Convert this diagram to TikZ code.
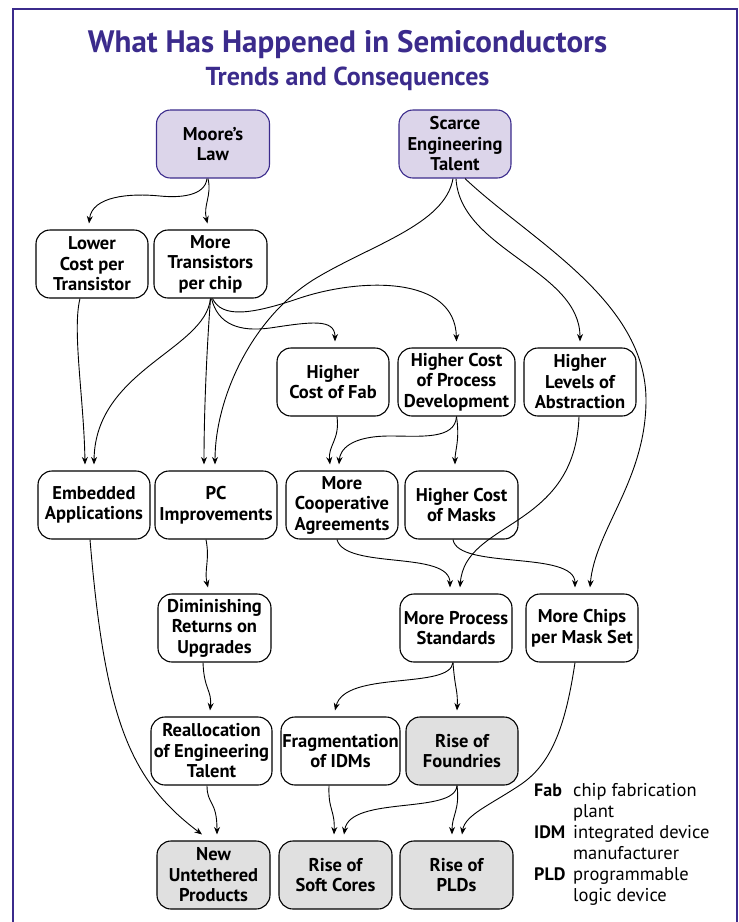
\documentclass[tikz,border=0pt]{standalone}
\usepackage{fontspec}
\setmainfont{PT Sans}
\usetikzlibrary{arrows.meta,calc}
\definecolor{framepurple}{HTML}{3B2B8C}
\definecolor{lav}{HTML}{DCD5EA}
\definecolor{gfill}{HTML}{E0E0E0}
\begin{document}
\begin{tikzpicture}[x=1pt,y=-1pt,
  box/.style={draw=black, line width=1.1pt, rounded corners=14pt, minimum width=#1,
    minimum height=68pt, inner sep=0.5pt, align=center,
    font=\fontsize{18.5}{20.5}\selectfont\bfseries},
  box/.default=112pt,
  topbox/.style={box=#1, draw=framepurple, fill=lav},
  topbox/.default=112pt,
  endbox/.style={box=#1, fill=gfill},
  endbox/.default=113pt,
  edge/.style={line width=0.9pt, -{Stealth[length=7.5pt,width=6pt]}},
  abbr/.style={anchor=base west, inner sep=0pt, font=\fontsize{18}{21}\selectfont\bfseries},
  defn/.style={anchor=base west, inner sep=0pt, font=\fontsize{18.5}{21}\selectfont},
]
\useasboundingbox (0,0) rectangle (739,922);
% frame
\draw[framepurple, line width=2.5pt] (13,922) -- (13,9) -- (737,9) -- (737,922);
% titles
\node[anchor=base, text=framepurple, font=\fontsize{31}{34}\selectfont\bfseries] (title) at (347.5,52) {What Has Happened in Semiconductors};
\node[anchor=base, text=framepurple, font=\fontsize{26}{30}\selectfont\bfseries] (subtitle) at (347.5,85) {Trends and Consequences};
% nodes
\node[topbox=113pt] (moore) at (213,144) {Moore’s\\Law};
\node[topbox] (scarce) at (455,144) {Scarce\\Engineering\\Talent};
\node[box] (lower) at (92,264) {Lower\\Cost per\\Transistor};
\node[box=113pt] (moretr) at (210.5,264) {More\\Transistors\\per chip};
\node[box] (fab) at (333,382) {Higher\\Cost of Fab};
\node[box=117pt] (procdev) at (456.5,382) {Higher Cost\\of Process\\Development};
\node[box] (abstr) at (580,382) {Higher\\Levels of\\Abstraction};
\node[box] (embed) at (94,505) {Embedded\\Applications};
\node[box=122pt] (pc) at (216,505) {PC\\Improvements};
\node[box] (coop) at (342,505) {More\\Cooperative\\Agreements};
\node[box=113pt] (masks) at (461.5,505) {Higher Cost\\of Masks};
\node[box=113pt] (dimin) at (214.5,628) {Diminishing\\Returns on\\Upgrades};
\node[box] (stds) at (456,628) {More Process\\Standards};
\node[box] (chips) at (582,628) {More Chips\\per Mask Set};
\node[box=121pt] (realloc) at (211.5,751) {Reallocation\\of Engineering\\Talent};
\node[box=119pt] (frag) at (340.5,751) {Fragmentation\\of IDMs};
\node[endbox=112pt] (foundries) at (462,751) {Rise of\\Foundries};
\node[endbox] (untethered) at (213.5,875) {New\\Untethered\\Products};
\node[endbox] (softcores) at (335.5,875) {Rise of\\Soft Cores};
\node[endbox] (plds) at (456.5,875) {Rise of\\PLDs};
% edges
\draw[edge] ($(moore.south)+(-6,0)$) .. controls (205,196) and (180,198) .. (160,196) .. controls (130,193) and (92,196) .. ($(lower.north)+(-3,-6)$);
\draw[edge] ($(moore.south)+(-5,0)$) .. controls (212,196) and (203,205) .. ($(moretr.north)+(-3,-6)$);
\draw[edge] ($(scarce.south)+(-2,0)$) .. controls (445,225) and (370,245) .. (313,280) .. controls (250,320) and (215,400) .. ($(pc.north)+(-1,-6)$);
\draw[edge] ($(scarce.south)+(1,0)$) .. controls (460,250) and (580,270) .. ($(abstr.north)+(0,-6)$);
\draw[edge] ($(scarce.south)+(10,0)$) .. controls (530,240) and (646,300) .. (646,400) .. controls (646,480) and (595,530) .. ($(chips.north)+(8,-6)$);
\draw[edge] ($(lower.south)+(-12,0)$) .. controls (72,330) and (84,400) .. ($(embed.north)+(-9,-6)$);
\draw[edge] (moretr.south) .. controls (205,350) and (95,370) .. ($(embed.north)+(0,-6)$);
\draw[edge] (moretr.south) .. controls (206,360) and (204,420) .. ($(pc.north)+(-12,-6)$);
\draw[edge] ($(moretr.south)+(1,0)$) .. controls (218,325) and (240,332) .. (270,328) .. controls (310,322) and (335,318) .. ($(fab.north)+(2,-6)$);
\draw[edge] ($(moretr.south)+(2,0)$) .. controls (222,318) and (250,315) .. (300,298) .. controls (360,278) and (455,275) .. ($(procdev.north)+(0,-6)$);
\draw[edge] ($(fab.south)+(4,0)$) .. controls (340,440) and (328,445) .. ($(coop.north)+(-12,-6)$);
\draw[edge] (procdev.south) .. controls (455,440) and (420,436) .. (390,436) .. controls (350,436) and (340,450) .. ($(coop.north)+(-3,-6)$);
\draw[edge] (procdev.south) .. controls (460,440) and (455,450) .. ($(masks.north)+(-6.5,-6)$);
\draw[edge] ($(abstr.south)+(-1,0)$) .. controls (575,530) and (465,520) .. ($(stds.north)+(4,-6)$);
\draw[edge] ($(coop.south)+(-5,0)$) .. controls (345,570) and (450,550) .. ($(stds.north)+(-6,-6)$);
\draw[edge] ($(masks.south)+(-8.5,0)$) .. controls (458,570) and (575,550) .. ($(chips.north)+(-7,-6)$);
\draw[edge] ($(embed.south)+(-4,0)$) .. controls (105,720) and (130,780) .. ($(untethered.north)+(-11.5,-6)$);
\draw[edge] ($(pc.south)+(-10,0)$) .. controls (210,560) and (204,570) .. ($(dimin.north)+(-6.5,-6)$);
\draw[edge] ($(dimin.south)+(-11.5,0)$) .. controls (204,690) and (212,690) .. ($(realloc.north)+(-1.5,-6)$);
\draw[edge] ($(realloc.south)+(-4.5,0)$) .. controls (207,805) and (217,800) .. ($(untethered.north)+(3.5,-6)$);
\draw[edge] ($(stds.south)+(-3,0)$) .. controls (450,690) and (345,670) .. ($(frag.north)+(-5.5,-6)$);
\draw[edge] ($(stds.south)+(-3,0)$) .. controls (455,690) and (458,690) .. ($(foundries.north)+(-5,-6)$);
\draw[edge] ($(chips.south)+(-7,0)$) .. controls (565,730) and (550,765) .. (520,785) .. controls (490,805) and (465,815) .. ($(plds.north)+(5.5,-6)$);
\draw[edge] ($(frag.south)+(-11.5,0)$) .. controls (328,810) and (335,810) .. ($(softcores.north)+(-1.5,-6)$);
\draw[edge] ($(foundries.south)+(-5,0)$) .. controls (455,815) and (350,795) .. ($(softcores.north)+(8.5,-6)$);
\draw[edge] ($(foundries.south)+(-5,0)$) .. controls (460,810) and (452,815) .. ($(plds.north)+(-4.5,-6)$);
% legend
\node[abbr] (lfab) at (534,796) {Fab};
\node[defn] (dfab1) at (573,796) {chip fabrication};
\node[defn] (dfab2) at (573,817) {plant};
\node[abbr] (lidm) at (534,838) {IDM};
\node[defn] (didm1) at (573,838) {integrated device};
\node[defn] (didm2) at (573,859) {manufacturer};
\node[abbr] (lpld) at (534,880) {PLD};
\node[defn] (dpld1) at (573,880) {programmable};
\node[defn] (dpld2) at (573,901) {logic device};
\end{tikzpicture}
\end{document}
